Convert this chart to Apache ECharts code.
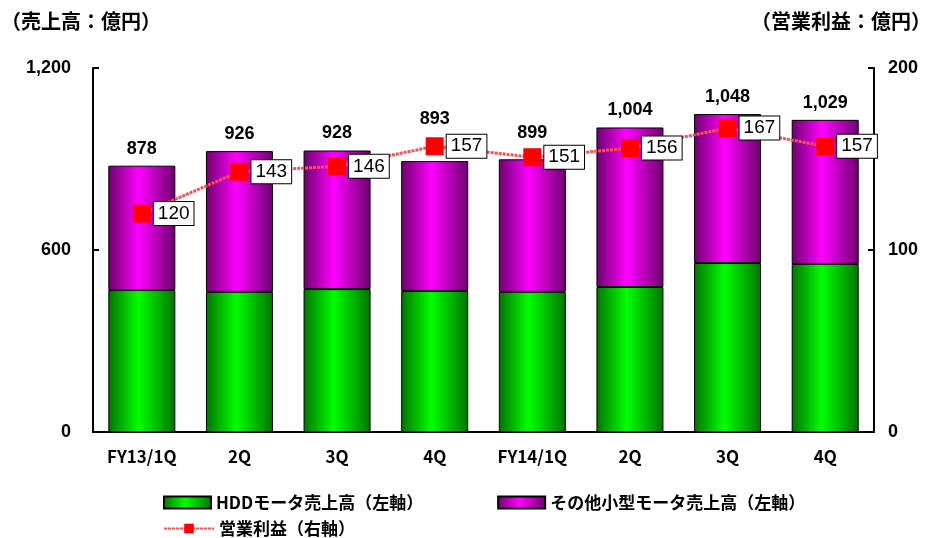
<!DOCTYPE html>
<html>
<head>
<meta charset="utf-8">
<script src="https://cdn.jsdelivr.net/npm/echarts@6/dist/echarts.min.js"></script>
<style>
  html, body { margin: 0; padding: 0; background: #fff; }
  #chart { width: 936px; height: 538px; }
</style>
</head>
<body>
<div id="chart"></div>
<script>
var categories = ['FY13/1Q', '2Q', '3Q', '4Q', 'FY14/1Q', '2Q', '3Q', '4Q'];
var hddSales = [468, 462, 471, 465, 462, 478, 557, 554];
var otherSales = [410, 464, 457, 428, 437, 526, 491, 475];
var totalSales = [878, 926, 928, 893, 899, 1004, 1048, 1029];
var opProfit = [120, 143, 146, 157, 151, 156, 167, 157];

var FONT = "'Liberation Sans', 'Noto Sans CJK JP', sans-serif";
var JFONT = "'Noto Sans CJK JP', sans-serif";

// total labels lifted to keep clear of the profit markers
var labelLift = { 3: 25, 4: 9 };

function hGrad(edge, mid) {
    return new echarts.graphic.LinearGradient(0, 0, 1, 0, [
        { offset: 0, color: edge },
        { offset: 0.45, color: mid },
        { offset: 1, color: edge }
    ]);
}

var otherData = otherSales.map(function (v, i) {
    var item = { value: v };
    if (labelLift[i]) item.label = { distance: 8 + labelLift[i] };
    return item;
});

var chart = echarts.init(document.getElementById('chart'));
chart.setOption({
    animation: false,
    grid: { left: 93, right: 62, top: 68, bottom: 106 },
    title: [
        { text: '（売上高：億円）', left: -4, top: 6, textStyle: { fontFamily: JFONT, fontSize: 20, fontWeight: 'bold', color: '#000' } },
        { text: '（営業利益：億円）', right: 0, top: 6, textStyle: { fontFamily: JFONT, fontSize: 20, fontWeight: 'bold', color: '#000' } }
    ],
    legend: [
        {
            data: ['HDDモータ売上高（左軸）', 'その他小型モータ売上高（左軸）'],
            left: 158, top: 489, itemWidth: 47, itemHeight: 12, itemGap: 74, icon: 'rect',
            textStyle: { fontFamily: JFONT, fontSize: 17, fontWeight: 'bold', color: '#000' }
        },
        {
            data: ['営業利益（右軸）'],
            left: 158, top: 515, itemWidth: 50, itemHeight: 12,
            textStyle: { fontFamily: JFONT, fontSize: 17, fontWeight: 'bold', color: '#000' }
        }
    ],
    xAxis: {
        type: 'category',
        data: categories,
        axisLine: { lineStyle: { color: '#000', width: 2 } },
        axisTick: { inside: true, length: 5, lineStyle: { color: '#000', width: 2 } },
        axisLabel: { interval: 0, margin: 16, fontFamily: JFONT, fontSize: 17, fontWeight: 'bold', color: '#000' }
    },
    yAxis: [
        {
            type: 'value', min: 0, max: 1200, interval: 600,
            axisLine: { show: true, lineStyle: { color: '#000', width: 2 } },
            axisTick: { show: true, inside: true, length: 6, lineStyle: { color: '#000', width: 2 } },
            splitLine: { show: false },
            axisLabel: {
                margin: 22, fontFamily: FONT, fontSize: 18, fontWeight: 'bold', color: '#000',
                formatter: function (v) { return v.toLocaleString('en-US'); }
            }
        },
        {
            type: 'value', min: 0, max: 200, interval: 100,
            axisLine: { show: true, lineStyle: { color: '#000', width: 2 } },
            axisTick: { show: true, inside: true, length: 6, lineStyle: { color: '#000', width: 2 } },
            splitLine: { show: false },
            axisLabel: { margin: 14, fontFamily: FONT, fontSize: 18, fontWeight: 'bold', color: '#000' }
        }
    ],
    series: [
        {
            name: 'HDDモータ売上高（左軸）',
            type: 'bar', stack: 'sales', barWidth: 67,
            data: hddSales,
            itemStyle: { color: hGrad('#007400', '#00ff00'), borderColor: '#000', borderWidth: 1 }
        },
        {
            name: 'その他小型モータ売上高（左軸）',
            type: 'bar', stack: 'sales', barWidth: 67,
            data: otherData,
            itemStyle: { color: hGrad('#6e006e', '#ff00ff'), borderColor: '#000', borderWidth: 1 },
            label: {
                show: true, position: 'top', distance: 8,
                fontFamily: FONT, fontSize: 18, fontWeight: 'bold', color: '#000',
                formatter: function (p) { return totalSales[p.dataIndex].toLocaleString('en-US'); }
            }
        },
        {
            name: '営業利益（右軸）',
            type: 'line', yAxisIndex: 1, z: 5,
            data: opProfit,
            symbol: 'rect', symbolSize: 18,
            itemStyle: { color: '#ff0000' },
            lineStyle: { color: '#ff5050', width: 3, type: [3, 1] },
            label: {
                show: true, position: 'right', distance: 3,
                fontFamily: FONT, fontSize: 19, color: '#000',
                backgroundColor: '#fff', borderColor: '#000', borderWidth: 1,
                padding: [3, 4, 1, 4]
            }
        }
    ]
});
</script>
</body>
</html>
